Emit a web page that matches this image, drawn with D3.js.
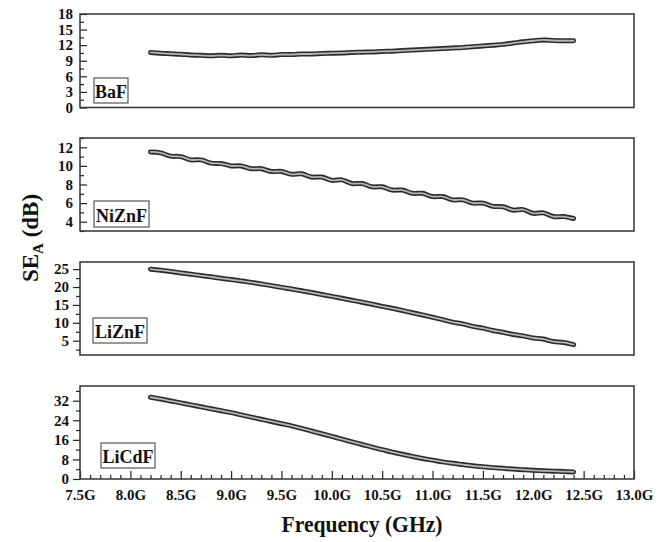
<!DOCTYPE html>
<html>
<head>
<meta charset="utf-8">
<script src="https://cdn.jsdelivr.net/npm/d3@7"></script>
<style>
  body { margin: 0; background: #fff; }
  svg { display: block; }
  .tick line { stroke: #222; stroke-width: 1.2; }
  .lbl { font-family: "Liberation Serif", serif; font-weight: bold; fill: #111; }
</style>
</head>
<body>
<div id="chart"></div>
<script>
// frequency grid (GHz)
var freq = [8.2, 8.3, 8.4, 8.5, 8.6, 8.7, 8.8, 8.9, 9.0, 9.1, 9.2, 9.3, 9.4, 9.5, 9.6, 9.7, 9.8, 9.9, 10.0, 10.1, 10.2,
            10.3, 10.4, 10.5, 10.6, 10.7, 10.8, 10.9, 11.0, 11.1, 11.2, 11.3, 11.4, 11.5, 11.6, 11.7, 11.8, 11.9, 12.0, 12.1, 12.2, 12.3, 12.4];

// SE_A (dB) per sample
var baF   = [10.6, 10.45, 10.35, 10.25, 10.1, 10.05, 9.95, 10.05, 9.95, 10.1, 10.0, 10.15, 10.05, 10.2, 10.2, 10.3, 10.3, 10.4, 10.45, 10.5, 10.6,
             10.65, 10.7, 10.8, 10.85, 10.95, 11.05, 11.15, 11.25, 11.35, 11.45, 11.55, 11.7, 11.85, 12.0, 12.15, 12.4, 12.65, 12.85, 13.0, 12.9, 12.85, 12.85];
var niZnF = [11.5, 11.4, 11.05, 11.0, 10.65, 10.65, 10.3, 10.25, 10.0, 10.0, 9.7, 9.7, 9.4, 9.4, 9.1, 9.15, 8.8, 8.8, 8.45, 8.5, 8.1,
             8.1, 7.75, 7.75, 7.4, 7.4, 7.05, 7.05, 6.7, 6.7, 6.35, 6.35, 6.0, 6.0, 5.65, 5.6, 5.25, 5.3, 4.9, 4.95, 4.55, 4.55, 4.35];
var liZnF = [25.0, 24.7, 24.35, 23.95, 23.6, 23.2, 22.85, 22.45, 22.1, 21.7, 21.3, 20.85, 20.4, 19.9, 19.45, 18.95, 18.45, 17.9, 17.4, 16.85, 16.3,
             15.75, 15.2, 14.6, 14.05, 13.45, 12.8, 12.2, 11.55, 10.9, 10.2, 9.7, 9.0, 8.5, 7.85, 7.35, 6.75, 6.35, 5.75, 5.45, 4.75, 4.5, 3.9];
var liCdF = [33.4, 32.7, 31.9, 31.1, 30.3, 29.5, 28.7, 27.9, 27.1, 26.2, 25.3, 24.4, 23.5, 22.6, 21.7, 20.7, 19.6, 18.5, 17.4, 16.3, 15.2,
             14.1, 13.0, 12.0, 11.0, 10.1, 9.2, 8.4, 7.7, 7.0, 6.4, 5.9, 5.4, 5.0, 4.65, 4.35, 4.05, 3.8, 3.55, 3.35, 3.2, 3.05, 2.9];

var names = ['BaF', 'NiZnF', 'LiZnF', 'LiCdF'];
var xTicks = [7.5, 8.0, 8.5, 9.0, 9.5, 10.0, 10.5, 11.0, 11.5, 12.0, 12.5, 13.0];
var yMajor = [[0, 3, 6, 9, 12, 15, 18], [4, 6, 8, 10, 12], [5, 10, 15, 20, 25], [0, 8, 16, 24, 32]];
var yMinor = [[1.5, 4.5, 7.5, 10.5, 13.5, 16.5], [3, 5, 7, 9, 11, 13], [2.5, 7.5, 12.5, 17.5, 22.5], [4, 12, 20, 28, 36]];
var yDomain = [[0, 18], [3, 13], [1, 27], [0, 38]];

var W = 665, H = 542;
var left = 80, right = 634;
var panels = [
  {top: 14, bottom: 107.5, inward: true,  box: [94, 78, 34, 25]},
  {top: 138, bottom: 231, inward: true,  box: [94, 201, 55, 26]},
  {top: 262, bottom: 355, inward: false, box: [93, 318, 54, 25]},
  {top: 386, bottom: 479, inward: false, box: [101, 443, 54, 25]}
];
var series = [baF, niZnF, liZnF, liCdF];

var svg = d3.select('#chart').append('svg')
    .attr('width', W)
    .attr('height', H);

var x = d3.scaleLinear().domain([7.5, 13.0]).range([left, right]);

function tickFont(s) {
    s.select('.domain').remove();
    s.selectAll('text')
        .style('font-family', '"Liberation Serif", serif')
        .style('font-weight', 'bold')
        .style('font-size', '15px')
        .style('fill', '#111');
}

panels.forEach(function (p, i) {
    var y = d3.scaleLinear().domain(yDomain[i]).range([p.bottom, p.top]);
    var g = svg.append('g');

    // minor y ticks
    g.append('g')
        .attr('transform', 'translate(' + left + ',0)')
        .call(d3.axisLeft(y).tickValues(yMinor[i]).tickSizeInner(p.inward ? -4 : 4).tickSizeOuter(0).tickFormat(''))
        .call(tickFont);

    // major y ticks
    g.append('g')
        .attr('transform', 'translate(' + left + ',0)')
        .call(d3.axisLeft(y).tickValues(yMajor[i]).tickSizeInner(p.inward ? -7 : 7).tickSizeOuter(0).tickPadding(p.inward ? 7 : 4))
        .call(tickFont);

    if (i === 3) {
        var minorX = [];
        xTicks.forEach(function (t, k) {
            if (k < xTicks.length - 1) {
                for (var m = 1; m < 5; m++) minorX.push(t + m * 0.1);
            }
        });
        g.append('g')
            .attr('transform', 'translate(0,' + p.bottom + ')')
            .call(d3.axisBottom(x).tickValues(minorX).tickSizeInner(-4).tickSizeOuter(0).tickFormat(''))
            .call(tickFont);
        g.append('g')
            .attr('transform', 'translate(0,' + p.bottom + ')')
            .call(d3.axisBottom(x).tickValues(xTicks).tickSizeInner(-8).tickSizeOuter(0).tickPadding(10)
                .tickFormat(function (d) { return d.toFixed(1) + 'G'; }))
            .call(tickFont);
    }

    // frame
    g.append('rect')
        .attr('x', left)
        .attr('y', p.top)
        .attr('width', right - left)
        .attr('height', p.bottom - p.top)
        .attr('fill', 'none')
        .attr('stroke', '#333')
        .attr('stroke-width', 1.5);

    var line = d3.line()
        .x(function (d, k) { return x(freq[k]); })
        .y(function (d) { return y(d); })
        .curve(d3.curveCatmullRom);

    g.append('path')
        .attr('d', line(series[i]))
        .attr('fill', 'none')
        .attr('stroke', '#2b2b2b')
        .attr('stroke-width', 5)
        .attr('stroke-linecap', 'round');
    g.append('path')
        .attr('d', line(series[i]))
        .attr('fill', 'none')
        .attr('stroke', '#b5b5b5')
        .attr('stroke-width', 1.8)
        .attr('stroke-linecap', 'round');

    // sample name box
    g.append('rect')
        .attr('x', p.box[0])
        .attr('y', p.box[1])
        .attr('width', p.box[2])
        .attr('height', p.box[3])
        .attr('fill', '#fff')
        .attr('stroke', '#555')
        .attr('stroke-width', 1.2);
    g.append('text')
        .attr('class', 'lbl')
        .attr('x', p.box[0] + p.box[2] / 2)
        .attr('y', p.box[1] + p.box[3] - 5)
        .attr('text-anchor', 'middle')
        .style('font-size', '18px')
        .text(names[i]);
});

// axis titles
svg.append('text')
    .attr('class', 'lbl')
    .attr('x', 362)
    .attr('y', 532)
    .attr('text-anchor', 'middle')
    .style('font-size', '24px')
    .attr('textLength', 161)
    .attr('lengthAdjust', 'spacingAndGlyphs')
    .text('Frequency (GHz)');

var yt = svg.append('text')
    .attr('class', 'lbl')
    .attr('transform', 'translate(38,238) rotate(-90)')
    .attr('text-anchor', 'middle')
    .style('font-size', '23px');
yt.append('tspan').text('SE');
yt.append('tspan').attr('dy', 5).style('font-size', '15px').text('A');
yt.append('tspan').attr('dy', -5).text(' (dB)');
</script>
</body>
</html>
